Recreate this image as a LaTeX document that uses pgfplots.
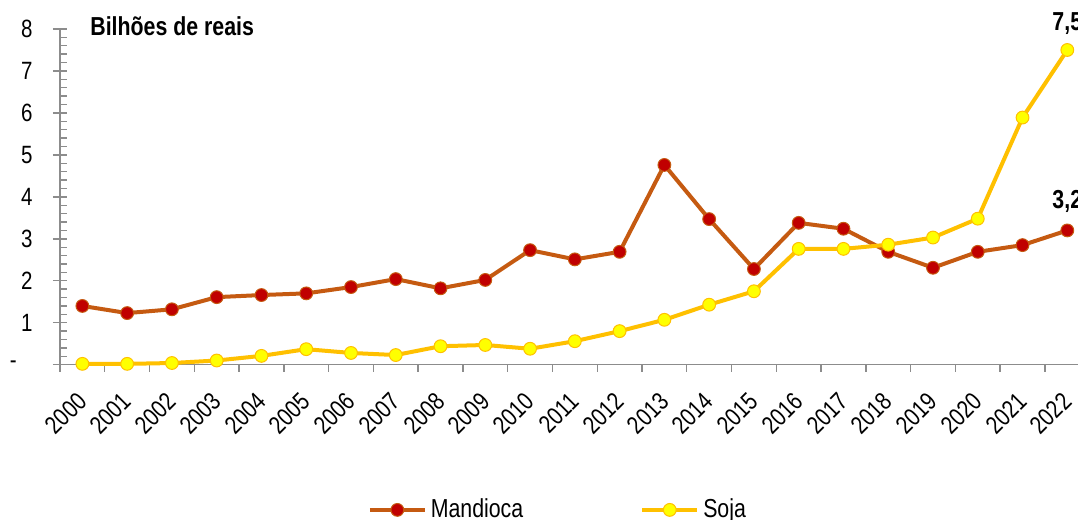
\documentclass[border=0pt]{standalone}
\usepackage{pgfplots}
\pgfplotsset{compat=1.18}
\usepackage{fontspec}
\setmainfont{Liberation Sans}[FakeStretch=0.82]

\definecolor{mandLine}{HTML}{C55A11}
\definecolor{mandFill}{HTML}{C00000}
\definecolor{sojaLine}{HTML}{FFC000}
\definecolor{sojaFill}{HTML}{FFFF00}
\definecolor{axisgray}{HTML}{8C8C8C}

\begin{document}
\begin{tikzpicture}
\begin{axis}[
  name=ax,
  scale only axis,
  width=514.85pt, height=167.85pt,
  xmin=-0.5, xmax=22.5, ymin=0, ymax=8,
  clip=false,
  axis x line*=bottom, axis y line*=left,
  axis line style={draw=axisgray, line width=0.7pt},
  xtick={0,...,22},
  xticklabels={2000,2001,2002,2003,2004,2005,2006,2007,2008,2009,2010,2011,
    2012,2013,2014,2015,2016,2017,2018,2019,2020,2021,2022},
  minor xtick={-0.5,0.5,...,22.5},
  ytick={0,...,8},
  yticklabels={{-\hspace*{8pt}},1,2,3,4,5,6,7,8},
  minor y tick num=4,
  tick align=center,
  major tick length=7pt,
  minor tick length=3.5pt,
  tick style={draw=axisgray, line width=0.7pt},
  every major x tick/.append style={draw=none},
  every minor x tick/.append style={yshift=-1.75pt},
  every minor y tick/.append style={xshift=1.75pt},
  /pgf/number format/assume math mode=true,
  tick label style={font=\fontsize{12.5}{14}\selectfont, inner sep=0pt},
  xticklabel style={yshift=-12.5pt, rotate=45, anchor=east},
  yticklabel style={anchor=east, xshift=-10pt},
  legend columns=2,
  legend style={draw=none, fill=none, at={(0.4845,0)}, yshift=-72.6pt,
    anchor=center, font=\fontsize{13}{15}\selectfont,
    /tikz/every even column/.append style={column sep=56.5pt}},
  legend image code/.code={\draw[mark repeat=2, mark phase=2, #1]
    plot coordinates {(0pt,0pt) (13.75pt,0pt) (27.5pt,0pt)};},
]
% Mandioca
\addplot[color=mandLine, line width=2pt, mark=*, mark size=3.2pt,
  mark options={fill=mandFill, draw=mandLine, line width=0.5pt}]
  coordinates {
  (0,1.40) (1,1.23) (2,1.32) (3,1.61) (4,1.66) (5,1.70) (6,1.85) (7,2.04)
  (8,1.82) (9,2.02) (10,2.73) (11,2.51) (12,2.69) (13,4.76) (14,3.47)
  (15,2.28) (16,3.38) (17,3.24) (18,2.69) (19,2.31) (20,2.69) (21,2.85)
  (22,3.20)}
  node[pos=1, anchor=base, yshift=11pt, text=black,
    font=\fontsize{13}{15}\selectfont\bfseries, inner sep=0pt] {3,2};
\addlegendentry{Mandioca}
% Soja
\addplot[color=sojaLine, line width=2pt, mark=*, mark size=3.2pt,
  mark options={fill=sojaFill, draw=sojaLine, line width=0.5pt}]
  coordinates {
  (0,0.02) (1,0.02) (2,0.04) (3,0.10) (4,0.21) (5,0.37) (6,0.28) (7,0.23)
  (8,0.44) (9,0.47) (10,0.38) (11,0.56) (12,0.80) (13,1.07) (14,1.43)
  (15,1.75) (16,2.76) (17,2.76) (18,2.86) (19,3.03) (20,3.48) (21,5.89)
  (22,7.50)}
  node[pos=1, anchor=base, yshift=9.5pt, text=black,
    font=\fontsize{13}{15}\selectfont\bfseries, inner sep=0pt] {7,5};
\addlegendentry{Soja}
\node[anchor=base west, font=\fontsize{13}{15}\selectfont\bfseries, inner sep=0pt]
  at ([xshift=15pt,yshift=-3pt]rel axis cs:0,1) {Bilhões de reais};
\end{axis}
\pgfresetboundingbox
\path (ax.south west) ++(-30pt,-77.65pt) rectangle ++(539pt,260pt);
\end{tikzpicture}
\end{document}
